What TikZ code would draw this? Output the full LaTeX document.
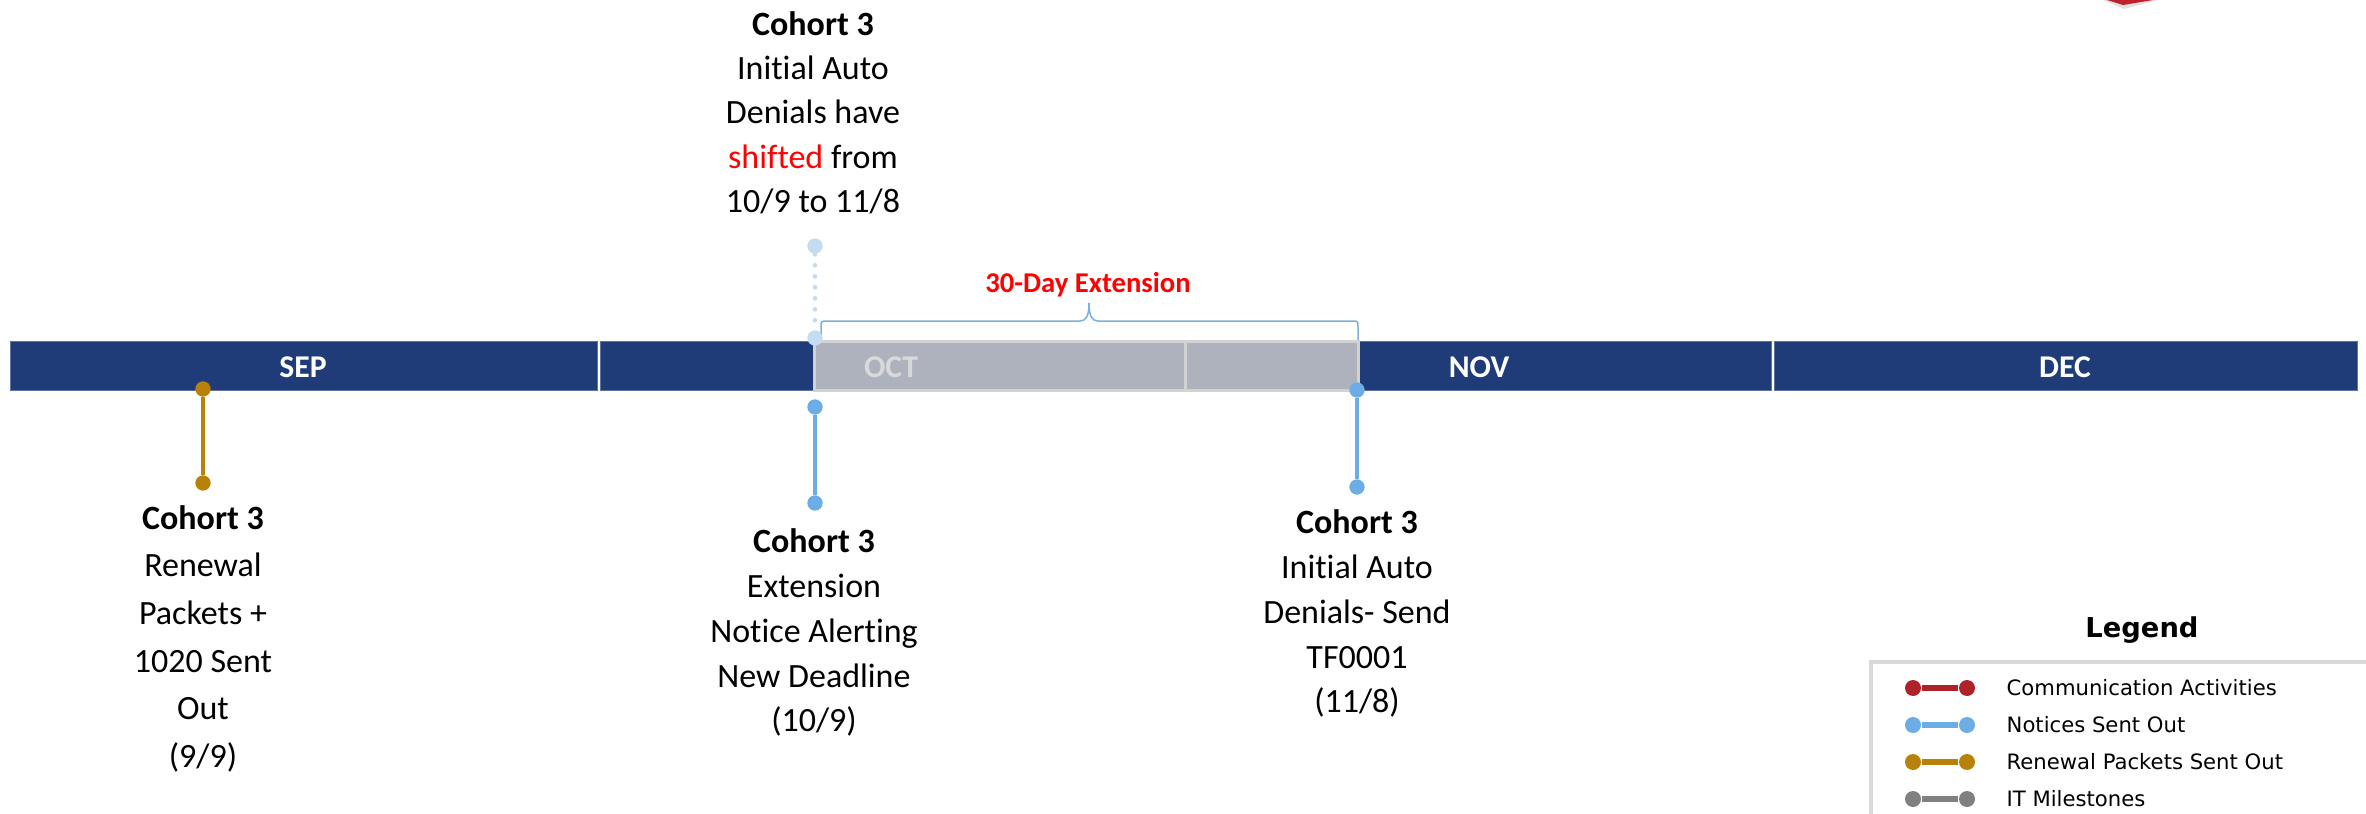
\documentclass[tikz,border=0pt]{standalone}
\usepackage{fontspec}
\setmainfont{Carlito}[Ligatures=NoCommon]
\newfontfamily\legendfont{DejaVu Sans}
\definecolor{barblue}{HTML}{1F3C78}
\definecolor{baredge}{HTML}{5E73A0}
\definecolor{overlaygray}{HTML}{ADB2BD}
\definecolor{overlayedge}{HTML}{D2D2D2}
\definecolor{octtext}{HTML}{D9D9D9}
\definecolor{markblue}{HTML}{6CADE5}
\definecolor{paleblue}{HTML}{C4DBF2}
\definecolor{markgold}{HTML}{B8820A}
\definecolor{bracec}{HTML}{7DAEDD}
\definecolor{legred}{HTML}{AE2229}
\definecolor{leggray}{HTML}{808080}
\definecolor{legbox}{HTML}{D9D9D9}
\definecolor{alertred}{HTML}{FF0000}
\definecolor{cornerred}{HTML}{C0202A}
\begin{document}
\begin{tikzpicture}[x=0.3pt,y=-0.3pt,
  dotnode/.style={circle,inner sep=0pt,minimum size=4.6pt},
  gdot/.style={dotnode,fill=markgold},
  bdot/.style={dotnode,fill=markblue},
  pdot/.style={dotnode,fill=paleblue},
  stem/.style={line width=1.3pt},
  monthlbl/.style={anchor=base,inner sep=0pt,text=white,font=\fontsize{9.5}{11}\selectfont\bfseries},
  cohort/.style={anchor=base,inner sep=0pt},
  ldot/.style={circle,inner sep=0pt,minimum size=4.8pt},
  legline/.style={line width=1.8pt},
  legtxt/.style={anchor=base west,inner sep=0pt,font=\legendfont\fontsize{6.35}{7.5}\selectfont},
  bracestyle/.style={draw=bracec,line width=0.45pt},
  segment/.style={fill=barblue,draw=baredge,line width=0.3pt}
]
\useasboundingbox (0,0) rectangle (2366,814);

% corner shape at top right
\fill[black!12] (2103,0) -- (2158,0) -- (2124,9) -- cycle;
\fill[cornerred] (2107,0) -- (2153,0) -- (2123,5) -- cycle;

% timeline bar
\path[segment] (10,341) rectangle (597,390);
\path[segment] (600,341) rectangle (1185,390);
\path[segment] (1188,341) rectangle (1771,390);
\path[segment] (1774,341) rectangle (2357,390);
\node[monthlbl] (sep) at (303,377) {SEP};
\node[monthlbl] (nov) at (1479,377) {NOV};
\node[monthlbl] (dec) at (2065,377) {DEC};

% extension overlay
\fill[overlaygray] (814,341) rectangle (1358,390);
\draw[overlayedge,line width=0.9pt] (814,341) rectangle (1358,390);
\draw[overlayedge,line width=0.9pt] (1185,341) -- (1185,390);
\node[monthlbl,text=octtext] (oct) at (891,377) {OCT};

% brace
\coordinate (bl) at (821,340);
\coordinate (br) at (1358,340);
\coordinate (bt) at (1089,303);
\draw[bracestyle] (bl) -- (821,327) .. controls (821,321) .. (827,321) -- (1080,321)
  .. controls (1086,321) and (1089,316) .. (bt)
  .. controls (1089,316) and (1092,321) .. (1098,321) -- (1352,321)
  .. controls (1358,321) .. (1358,327) -- (br);
\node[anchor=base,inner sep=0pt,text=alertred,font=\fontsize{8.6}{10}\selectfont\bfseries] (ext) at (1088,292) {30-Day Extension};

% dotted shifted marker
\node[pdot] (p1) at (815,246) {};
\node[pdot] (p2) at (815,338) {};
\draw[paleblue,line width=1.4pt,line cap=round,dash pattern=on 0pt off 3.3pt] (p1) -- (p2);

% gold marker
\node[gdot] (g1) at (203,389) {};
\node[gdot] (g2) at (203,483) {};
\draw[markgold,stem] (g1) -- (g2);

% blue markers
\node[bdot] (e1) at (815,407) {};
\node[bdot] (e2) at (815,503) {};
\draw[markblue,stem] (e1) -- (e2);
\node[bdot] (n1) at (1357,390) {};
\node[bdot] (n2) at (1357,487) {};
\draw[markblue,stem] (n1) -- (n2);

% texts
\node[cohort,font=\fontsize{10.2}{13.35}\selectfont] (toptext) at (813,35)
  {\begin{tabular}[t]{@{}c@{}}\textbf{Cohort 3}\\ Initial Auto\\ Denials have\\ {\color{alertred}shifted} from\\ 10/9 to 11/8\end{tabular}};
\node[cohort,font=\fontsize{10.2}{14.3}\selectfont] (goldtext) at (203,529)
  {\begin{tabular}[t]{@{}c@{}}\textbf{Cohort 3}\\ Renewal\\ Packets +\\ 1020 Sent\\ Out\\ (9/9)\end{tabular}};
\node[cohort,font=\fontsize{10.2}{13.5}\selectfont] (exttext) at (814,552)
  {\begin{tabular}[t]{@{}c@{}}\textbf{Cohort 3}\\ Extension\\ Notice Alerting\\ New Deadline\\ (10/9)\end{tabular}};
\node[cohort,font=\fontsize{10.2}{13.5}\selectfont] (novtext) at (1357,533)
  {\begin{tabular}[t]{@{}c@{}}\textbf{Cohort 3}\\ Initial Auto\\ Denials- Send\\ TF0001\\ (11/8)\end{tabular}};

% legend
\node[anchor=base,inner sep=0pt,font=\legendfont\fontsize{8.2}{10}\selectfont\bfseries] (legtitle) at (2142,637) {Legend};
\draw[legbox,line width=1.2pt] (2380,662) -- (1871,662) -- (1871,830);
\node[ldot,fill=legred] (lr1) at (1913,688) {};
\node[ldot,fill=legred] (lr2) at (1967,688) {};
\draw[legred,legline] (lr1) -- (lr2);
\node[legtxt] (lt1) at (2006,695) {Communication Activities};
\node[ldot,fill=markblue] (lb1) at (1913,725) {};
\node[ldot,fill=markblue] (lb2) at (1967,725) {};
\draw[markblue,legline] (lb1) -- (lb2);
\node[legtxt] (lt2) at (2006,732) {Notices Sent Out};
\node[ldot,fill=markgold] (lg1) at (1913,762) {};
\node[ldot,fill=markgold] (lg2) at (1967,762) {};
\draw[markgold,legline] (lg1) -- (lg2);
\node[legtxt] (lt3) at (2006,769) {Renewal Packets Sent Out};
\node[ldot,fill=leggray] (lm1) at (1913,799) {};
\node[ldot,fill=leggray] (lm2) at (1967,799) {};
\draw[leggray,legline] (lm1) -- (lm2);
\node[legtxt] (lt4) at (2006,806) {IT Milestones};
\end{tikzpicture}
\end{document}
